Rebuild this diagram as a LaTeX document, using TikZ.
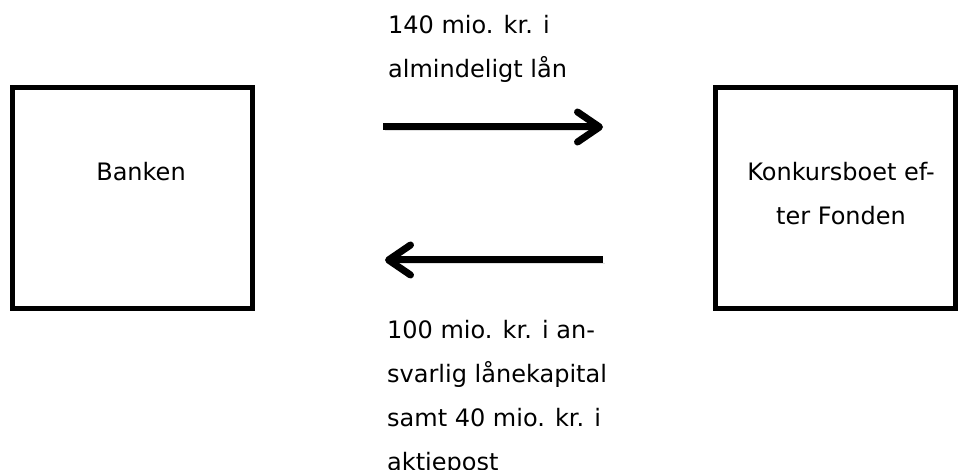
\documentclass[tikz,border=0pt]{standalone}
\usepackage{fontspec}
\setmainfont{DejaVu Sans}
\usetikzlibrary{arrows.meta, positioning}

\begin{document}
\begin{tikzpicture}[x=1pt, y=-1pt,
        font=\fontsize{24}{44}\selectfont,
        party/.style={draw, line width=5pt, minimum width=240pt, minimum height=220pt, inner sep=0pt},
        boxtext/.style={inner sep=0pt, align=center, anchor=north},
        note/.style={inner sep=0pt, align=left, anchor=north west},
        flow/.style={line width=7pt, -{Straight Barb[length=22pt, width=30pt, round]},
            preaction={draw=black!12, transform canvas={shift={(1.5pt,-3pt)}}}}]
    \useasboundingbox (0,0) rectangle (963,470);

    % the two parties
    \node[party] (bank) at (132,198) {};
    \node[party] (estate) at (835,198) {};
    \node[boxtext] (banklbl) at (141,162) {Banken};
    \node[boxtext] (estatelbl) at (841,162) {Konkursboet ef-\\ter Fonden};

    % arrow ends
    \coordinate (topL) at (383,127);
    \coordinate (topR) at (603,127);
    \coordinate (botL) at (385,260);
    \coordinate (botR) at (603,260);

    \draw[flow] (topL) -- (topR);
    \draw[flow] (botR) -- (botL);

    \node[note] (loan) at (388,15) {140 mio. kr. i\\almindeligt lån};
    \node[note] (capital) at (387,320) {100 mio. kr. i an-\\svarlig lånekapital\\samt 40 mio. kr. i\\aktiepost};
\end{tikzpicture}
\end{document}
